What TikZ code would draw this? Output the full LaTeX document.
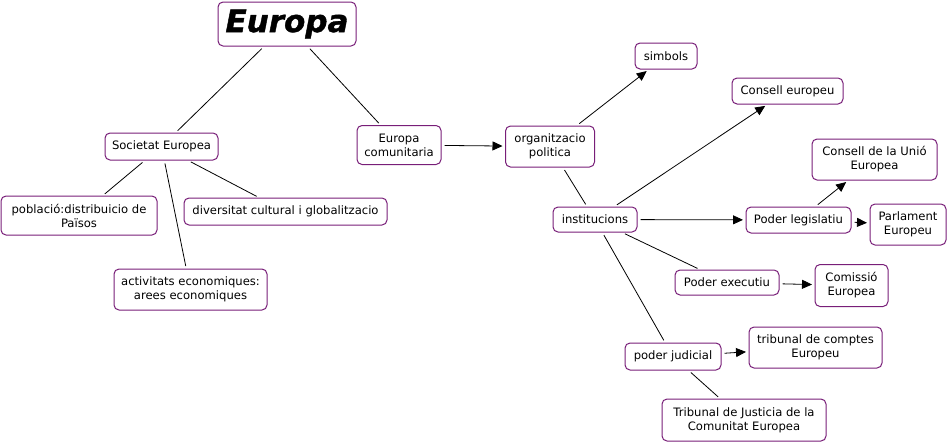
\documentclass[tikz,border=0pt]{standalone}
\usepackage{fontspec}
\setmainfont{DejaVu Sans}
\newfontfamily\titlefont{DejaVu Sans}[BoldItalicFeatures={FakeBold=1.3}]
\usetikzlibrary{arrows.meta}
\definecolor{boxc}{RGB}{120,30,120}
\begin{document}
\begin{tikzpicture}[x=1pt,y=-1pt,
 box/.style={draw=boxc, line width=1pt, rounded corners=5pt, fill=white, align=center, inner sep=0pt, font=\fontsize{11.6}{14}\selectfont},
 ln/.style={draw=black, line width=0.8pt, shorten <=3pt, shorten >=2.5pt},
 ar/.style={ln, -{Triangle[length=10pt,width=9pt]}}]
\useasboundingbox (0,0) rectangle (947,442);
\node[box, minimum width=138pt, minimum height=44pt, font=\titlefont\fontsize{31}{34}\bfseries\itshape\selectfont] (eu) at (287,24) {Europa};
\node[box, minimum width=113pt, minimum height=27pt] (soc) at (161.5,146.5) {Societat Europea};
\node[box, minimum width=84pt, minimum height=39pt] (com) at (399,145) {Europa\\comunitaria};
\node[box, minimum width=156pt, minimum height=39pt] (pob) at (79,215.5) {població:distribuicio de\\Països};
\node[box, minimum width=203pt, minimum height=27pt] (div) at (285.5,211.5) {diversitat cultural i globalitzacio};
\node[box, minimum width=153pt, minimum height=41pt] (act) at (190.5,289.5) {activitats economiques:\\arees economiques};
\node[box, minimum width=89pt, minimum height=41pt] (org) at (550,146.5) {organitzacio\\politica};
\node[box, minimum width=62pt, minimum height=26pt] (sim) at (666,56) {simbols};
\node[box, minimum width=111pt, minimum height=26pt] (ce) at (787.5,91) {Consell europeu};
\node[box, minimum width=125pt, minimum height=41pt] (cue) at (874.5,159.5) {Consell de la Unió\\Europea};
\node[box, minimum width=84pt, minimum height=25pt] (ins) at (595,219.5) {institucions};
\node[box, minimum width=105pt, minimum height=26pt] (leg) at (798.5,220) {Poder legislatiu};
\node[box, minimum width=76pt, minimum height=41pt] (par) at (908,224.5) {Parlament\\Europeu};
\node[box, minimum width=104pt, minimum height=25pt] (exe) at (727,282.5) {Poder executiu};
\node[box, minimum width=73pt, minimum height=42pt] (cms) at (851.5,285.5) {Comissió\\Europea};
\node[box, minimum width=96pt, minimum height=27pt] (jud) at (673,356.5) {poder judicial};
\node[box, minimum width=133pt, minimum height=41pt] (tc) at (815.5,347.5) {tribunal de comptes\\Europeu};
\node[box, minimum width=164pt, minimum height=42pt] (tj) at (744,420) {Tribunal de Justicia de la\\Comunitat Europea};
\draw[ln] (eu) -- (soc);
\draw[ln] (eu) -- (com);
\draw[ln] (soc) -- (pob);
\draw[ln] (soc) -- (act);
\draw[ln] (soc) -- (div);
\draw[ar] (com) -- (org);
\draw[ar] (org) -- (sim);
\draw[ln] (org) -- (ins);
\draw[ar] (ins) -- (ce);
\draw[ar] (ins) -- (leg);
\draw[ln] (ins) -- (exe);
\draw[ln] (ins) -- (jud);
\draw[ar] (leg) -- (cue);
\draw[ar] (leg) -- (par);
\draw[ar] (exe) -- (cms);
\draw[ar] (jud) -- (tc);
\draw[ln] (jud) -- (tj);
\end{tikzpicture}
\end{document}
